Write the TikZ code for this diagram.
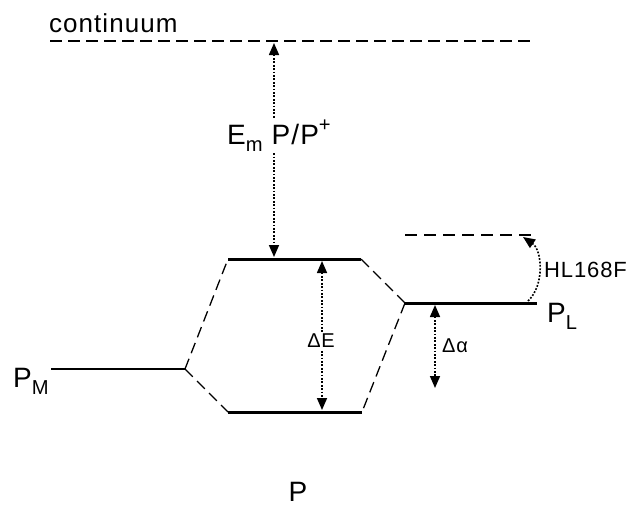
\documentclass[tikz,border=0pt]{standalone}
\usepackage{fontspec}
\setmainfont{Liberation Sans}[LetterSpace=4]
\usetikzlibrary{arrows.meta}
\newcommand{\mysub}[1]{\raisebox{-0.28em}{\fontsize{0.72em}{0.8em}\selectfont #1}}
\newcommand{\mysup}[1]{\raisebox{0.45em}{\fontsize{0.72em}{0.8em}\selectfont #1}}
\begin{document}
\begin{tikzpicture}[x=1pt,y=-1pt,
  levelline/.style={line width=3pt},
  pmline/.style={line width=2.6pt},
  conn/.style={line width=1.3pt, dash pattern=on 11pt off 6pt},
  contline/.style={line width=1.2pt, dash pattern=on 12pt off 6pt},
  upperdash/.style={line width=2.8pt, dash pattern=on 12pt off 7pt},
  tip/.tip={Triangle[length=12pt,width=10pt]},
  dotarrow/.style={line width=1.6pt, dash pattern=on 1.8pt off 1.6pt, tip-tip},
  dotarrowone/.style={line width=1.6pt, dash pattern=on 1.8pt off 1.6pt, -tip},
  big/.style={inner sep=1pt, font=\fontsize{28}{30}\selectfont},
  mid/.style={inner sep=1pt, font=\fontsize{26}{28}\selectfont},
  small/.style={inner sep=1pt, font=\fontsize{20}{22}\selectfont},
]
\useasboundingbox (0,0) rectangle (636,507);

% coordinates of levels
\coordinate (C1) at (50,41);
\coordinate (C2) at (530,41);
\coordinate (TL) at (228,259);
\coordinate (TR) at (361,259);
\coordinate (BL) at (228,412);
\coordinate (BR) at (362,412);
\coordinate (ML) at (51,369);
\coordinate (MR) at (185,369);
\coordinate (LL) at (405,303);
\coordinate (LR) at (537,303);
\coordinate (UL) at (405,235);
\coordinate (UR) at (537,235);

% levels
\draw[contline] (C1) -- (C2);
\draw[levelline] (TL) -- (TR);
\draw[levelline] (BL) -- (BR);
\draw[pmline] (ML) -- (MR);
\draw[levelline] (LL) -- (LR);
\draw[upperdash] (UL) -- (UR);

% correlation lines
\draw[conn] (MR) -- (TL);
\draw[conn] (MR) -- (BL);
\draw[conn] (LL) -- (TR);
\draw[conn] (LL) -- (BR);

% arrows
\coordinate (EmTop) at (274,43);
\coordinate (EmBot) at (274,257);
\draw[dotarrow] (EmTop) -- (EmBot);
\coordinate (DEt) at (322,261);
\coordinate (DEb) at (322,410);
\draw[dotarrow] (DEt) -- (DEb);
\coordinate (DAt) at (435,305);
\coordinate (DAb) at (435,388);
\draw[dotarrow] (DAt) -- (DAb);
\coordinate (HLs) at (528,301);
\coordinate (HLe) at (523,237);
\draw[dotarrowone] (HLs) .. controls (545,285) and (542,250) .. (HLe);

% labels
\node[mid, anchor=base west] (cont) at (48,32) {continuum};
\node[big, fill=white, anchor=base] (em) at (279,144) {E\mysub{m} P/P\mysup{+}};
\node[small, fill=white] (de) at (321,341) {ΔE};
\node[small, anchor=west] (da) at (441,346) {Δα};
\node[small, font=\fontsize{22}{24}\selectfont, anchor=west] (hl) at (543,270) {HL168F};
\node[big, anchor=base west] (pl) at (546,322) {P\mysub{L}};
\node[big, anchor=base west] (pm) at (12,387) {P\mysub{M}};
\node[big, anchor=base] (p) at (298,501) {P};
\end{tikzpicture}
\end{document}
